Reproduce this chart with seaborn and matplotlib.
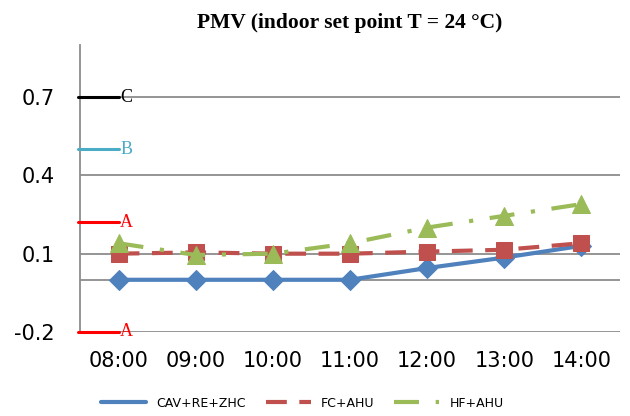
import matplotlib
matplotlib.use("Agg")
import matplotlib.pyplot as plt
import seaborn as sns
import pandas as pd

# dados
horas = ["08:00", "09:00", "10:00", "11:00", "12:00", "13:00", "14:00"]
cav_re_zhc = [0.0, 0.0, 0.0, 0.0, 0.045, 0.085, 0.13]
fc_ahu = [0.10, 0.105, 0.10, 0.10, 0.108, 0.115, 0.14]
hf_ahu = [0.14, 0.095, 0.10, 0.14, 0.20, 0.245, 0.29]

# limites das categorias de conforto (rótulo, valor, cor)
cat_rotulos = ["C", "B", "A", "A"]
cat_valores = [0.7, 0.5, 0.22, -0.2]
cat_cores = ["black", "#4BACC6", "red", "red"]

sns.set_style("white")
plt.rcParams["font.family"] = ["DejaVu Sans"]
plt.rcParams["text.color"] = "black"
plt.rcParams["xtick.color"] = "black"
plt.rcParams["ytick.color"] = "black"

fig = plt.figure(figsize=(6.3, 4.16), dpi=100)
ax = fig.add_axes([0.127, 0.202, 0.857, 0.690])

df = pd.DataFrame({"x": range(len(horas)), "cav": cav_re_zhc, "fc": fc_ahu, "hf": hf_ahu})

sns.lineplot(data=df, x="x", y="cav", ax=ax, color="#4F81BD", lw=3, marker="D",
             markersize=10, markeredgecolor="#4F81BD", label="CAV+RE+ZHC")
sns.lineplot(data=df, x="x", y="fc", ax=ax, color="#C0504D", lw=3, marker="s",
             markersize=12, markeredgecolor="#C0504D", label="FC+AHU")
ax.lines[-1].set_dashes([5, 3])
sns.lineplot(data=df, x="x", y="hf", ax=ax, color="#9BBB59", lw=3, marker="^",
             markersize=13, markeredgecolor="#9BBB59", label="HF+AHU")
ax.lines[-1].set_dashes([6, 4, 1, 4])

# linhas de grade
for v in [0.7, 0.4, 0.1, 0.0, -0.2]:
    ax.axhline(v, color="#8C8C8C", lw=1.3, zorder=0)

for rot, val, cor in zip(cat_rotulos, cat_valores, cat_cores):
    ax.plot([-0.53, 0.0], [val, val], color=cor, lw=2.2, clip_on=False, zorder=3)
    ax.text(0.02, val, rot, color=cor, family="Liberation Serif", fontsize=13,
            ha="left", va="center")

ax.set_xlim(-0.5, 6.5)
ax.set_ylim(-0.2, 0.9)
ax.set_xticks(range(len(horas)))
ax.set_xticklabels(horas, fontsize=15)
ax.set_yticks([-0.2, 0.1, 0.4, 0.7])
ax.set_yticklabels(["-0.2", "0.1", "0.4", "0.7"], fontsize=15)
ax.tick_params(axis="y", length=0, pad=18)
ax.tick_params(axis="x", length=0, pad=14)
ax.set_xlabel("")
ax.set_ylabel("")

for s in ["top", "right", "bottom"]:
    ax.spines[s].set_visible(False)
ax.spines["left"].set_color("#8C8C8C")
ax.spines["left"].set_linewidth(1.3)

ax.set_title("PMV (indoor set point T = 24 °C)", family="Liberation Serif",
             fontweight="bold", fontsize=15.5, pad=12, color="black")

leg = ax.legend(loc="lower center", bbox_to_anchor=(0.48, -0.012), bbox_transform=fig.transFigure,
                ncol=3, frameon=False, fontsize=9, handlelength=3.6, handletextpad=0.8,
                columnspacing=1.6)
for h in leg.get_lines():
    h.set_marker("")

fig.savefig("out.png", dpi=100)
